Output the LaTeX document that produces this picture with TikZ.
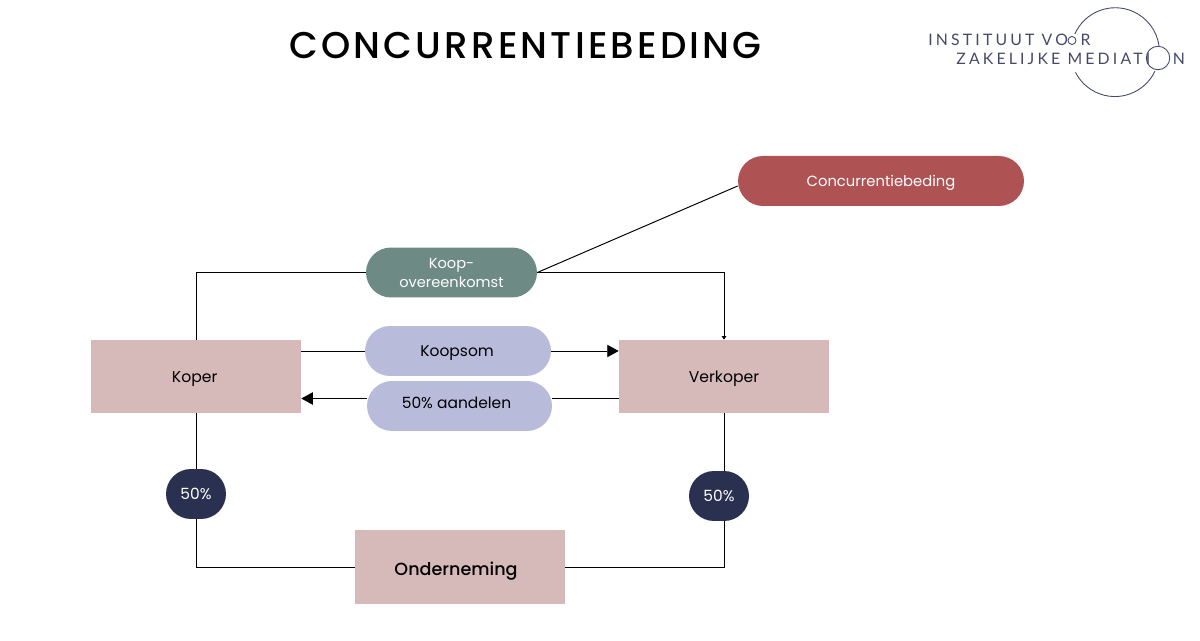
\documentclass[tikz,border=0pt]{standalone}
\usepackage{fontspec}
\setmainfont{Poppins}
\newfontfamily\spaced[LetterSpace=8.5]{Poppins Medium}
\newfontfamily\logofont[LetterSpace=20]{Lato}
\newfontfamily\mediumfont{Poppins Medium}
\usetikzlibrary{arrows.meta,backgrounds,calc}
\definecolor{pinkbox}{HTML}{D6B9B9}
\definecolor{greenpill}{HTML}{6E8A84}
\definecolor{lilacpill}{HTML}{B9BBDB}
\definecolor{redpill}{HTML}{AE5254}
\definecolor{navypill}{HTML}{293050}
\definecolor{logoblue}{HTML}{45486A}
\tikzset{
  lowtext/.style={text height=7.5pt,text depth=1pt},
  party/.style={fill=pinkbox,minimum width=4.2cm,minimum height=1.46cm,inner sep=0pt,lowtext,font=\fontsize{8.9}{11}\selectfont},
  pill/.style={rounded corners=.5cm,minimum height=1cm,inner sep=0pt,font=\fontsize{8.8}{11}\selectfont},
  share/.style={pill,fill=navypill,text=white,minimum width=1.2cm,font=\fontsize{8.8}{10}\selectfont},
  link/.style={draw=black,line width=.55pt},
  flow/.style={link,-{Triangle[length=6.5pt,width=7pt]}},
  logotext/.style={text=logoblue,inner sep=0pt,font=\logofont\fontsize{9}{11}\selectfont},
  logoline/.style={logoblue,line width=.5pt},
}
\begin{document}
\begin{tikzpicture}[x=.02cm,y=-.02cm]
\useasboundingbox (0,0) rectangle (1200,641);

\node[inner sep=0pt,font=\spaced\fontsize{21.2}{26}\selectfont] (title) at (525.5,46) {CONCURRENTIEBEDING};

% logo
\node[logotext,anchor=west] (logo1) at (928,40) {INSTITUUT VO\phantom{O}R};
\node[logotext,anchor=west] (logo2) at (956,59) {ZAKELIJKE MEDIATI\phantom{O}\hspace{5.7pt}N};
\draw[logoline] (1074.8,34) arc[start angle=156,end angle=8,radius=.885cm];
\draw[logoline] (1155,71) arc[start angle=-25,end angle=-153,radius=.885cm];
\draw[logoline] (1072,40.5) circle (.08cm);
\draw[logoline] (1158,58) circle (.235cm);

\node[party] (koper) at (196,376.5) {Koper\kern1.5pt};
\node[party] (verkoper) at (724,376.5) {Verkoper};
\node[party,minimum height=1.48cm,text height=11pt,font=\mediumfont\fontsize{10}{12}\selectfont] (onderneming) at (460,567) {Onderneming\kern4.5pt};

\node[pill,fill=greenpill,text=white,minimum width=3.42cm,align=center,font=\fontsize{8.3}{10.8}\selectfont] (koop) at (451.5,272.5) {Koop-\\overeenkomst};
\node[pill,lowtext,fill=redpill,text=white,minimum width=5.72cm,font=\fontsize{8.4}{11}\selectfont] (concurrentie) at (881,181) {Concurrentiebeding};
\node[pill,lowtext,fill=lilacpill,minimum width=3.72cm] (koopsom) at (458,351) {Koopsom\kern1pt};
\node[pill,lowtext,fill=lilacpill,minimum width=3.7cm] (aandelen) at (459.5,406) {\raisebox{1.7pt}{50\% aandelen}\kern3.4pt};
\node[share] (links) at (196,494) {50\%};
\node[share] (rechts) at (719,496) {50\%};

\begin{scope}[on background layer]
\draw[link] (koop.west) -| (koper.north);
\draw[link,-{Triangle[length=2pt,width=2.5pt]}] (koop.east) -| (verkoper.north);
\draw[link] (koop.east) -- ($(concurrentie.west)+(0,5)$);
\draw[link] (koper.south) |- (onderneming.west);
\draw[link] (verkoper.south) |- (onderneming.east);
\draw[link] (koper.east |- koopsom.west) -- (koopsom.west);
\draw[flow] (koopsom.east) -- (verkoper.west |- koopsom.east);
\draw[link] ($(verkoper.west |- aandelen.east)+(0,-7.5)$) -- ($(aandelen.east)+(0,-7.5)$);
\draw[flow] ($(aandelen.west)+(0,-7.5)$) -- ($(koper.east |- aandelen.west)+(0,-7.5)$);
\end{scope}

\end{tikzpicture}
\end{document}
